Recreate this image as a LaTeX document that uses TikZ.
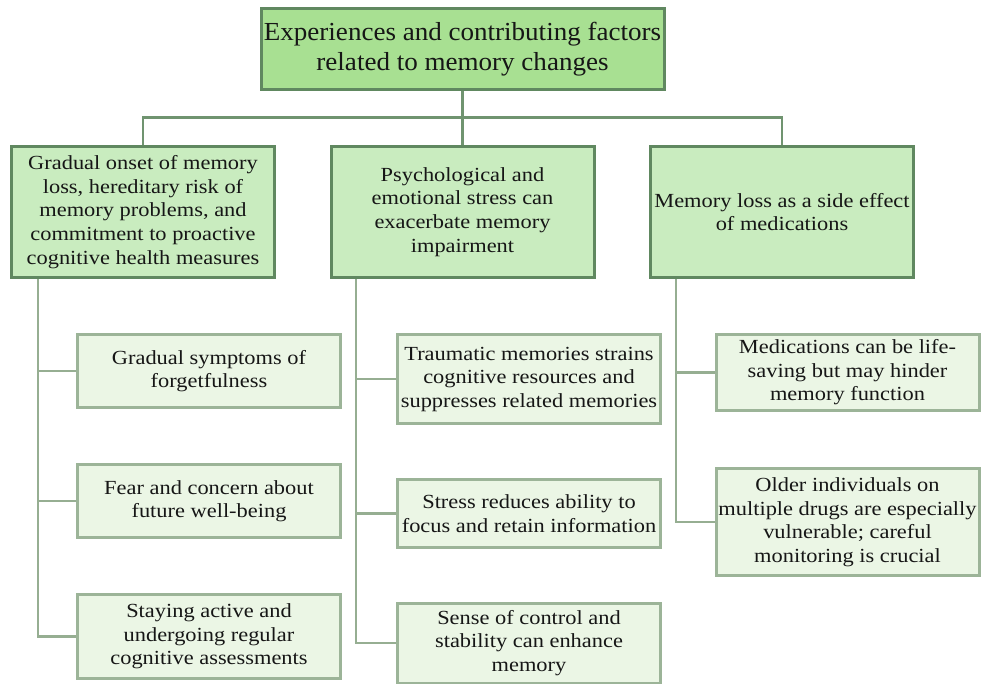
\documentclass[tikz,border=0pt]{standalone}
\usepackage{fontspec}
\setmainfont{Liberation Serif}
\newfontfamily\headfont{Liberation Serif}[FakeStretch=1.04]
\newfontfamily\boxfont{Liberation Serif}[FakeStretch=1.12]

\definecolor{rootfill}{RGB}{168,224,146}
\definecolor{midfill}{RGB}{201,236,191}
\definecolor{leaffill}{RGB}{235,246,229}
\definecolor{darkedge}{RGB}{96,136,96}
\definecolor{leafedge}{RGB}{156,180,152}
\definecolor{upline}{RGB}{112,148,112}
\definecolor{lowline}{RGB}{150,174,146}
\definecolor{ink}{RGB}{22,22,22}

\tikzset{
  rootbox/.style={draw=darkedge, fill=rootfill, line width=3pt,
    minimum width=403pt, minimum height=81pt, inner xsep=1pt, inner ysep=2pt,
    align=center, text=ink, font=\headfont\fontsize{26}{30}\selectfont},
  topicbox/.style={draw=darkedge, fill=midfill, line width=3pt,
    minimum width=263pt, minimum height=131pt, inner xsep=1pt, inner ysep=2pt,
    align=center, text=ink, font=\boxfont\fontsize{20}{23.7}\selectfont},
  leafbox/.style={draw=leafedge, fill=leaffill, line width=3pt,
    minimum width=263pt, inner xsep=1pt, inner ysep=2pt,
    align=center, text=ink, font=\boxfont\fontsize{20}{23.5}\selectfont},
  upconn/.style={draw=upline, line width=2.6pt},
  lowconn/.style={draw=lowline, line width=2.6pt},
}

\begin{document}
\begin{tikzpicture}[x=1pt, y=-1pt]
  \fill[white] (0,0) rectangle (981,683);
  \useasboundingbox (0,0) rectangle (981,683);

  % root and the three topics
  \node[rootbox] (root) at (462.5,49)
    {Experiences and contributing factors\\related to memory changes};
  \node[topicbox] (ta) at (143,212)
    {Gradual onset of memory\\loss, hereditary risk of\\memory problems, and\\commitment to proactive\\cognitive health measures};
  \node[topicbox] (tb) at (462.5,212)
    {Psychological and\\emotional stress can\\exacerbate memory\\impairment};
  \node[topicbox] (tc) at (782,212)
    {Memory loss as a side effect\\of medications};

  % first column of details
  \node[leafbox, minimum height=73pt] (la1) at (209,371)
    {Gradual symptoms of\\forgetfulness};
  \node[leafbox, minimum height=73pt] (la2) at (209,501)
    {Fear and concern about\\future well-being};
  \node[leafbox, minimum height=84pt] (la3) at (209,636.5)
    {Staying active and\\undergoing regular\\cognitive assessments};

  % second column of details
  \node[leafbox, minimum height=89pt] (lb1) at (529,379)
    {Traumatic memories strains\\cognitive resources and\\suppresses related memories};
  \node[leafbox, minimum height=68pt] (lb2) at (529,513.5)
    {Stress reduces ability to\\focus and retain information};
  \node[leafbox, minimum height=80pt] (lb3) at (529,643)
    {Sense of control and\\stability can enhance\\memory};

  % third column of details
  \node[leafbox, minimum height=76pt] (lc1) at (847.5,372.5)
    {Medications can be life-\\saving but may hinder\\memory function};
  \node[leafbox, minimum height=107pt] (lc2) at (847.5,522)
    {Older individuals on\\multiple drugs are especially\\vulnerable; careful\\monitoring is crucial};

  % root to topics
  \draw[upconn] (root.south) -- (tb.north);
  \draw[upconn] (ta.north) -- ++(0,-27.5) -| (tc.north);

  % trunks under each topic
  \coordinate (trunka) at ([xshift=-105pt]ta.south);
  \coordinate (trunkb) at ([xshift=-106.5pt]tb.south);
  \coordinate (trunkc) at ([xshift=-106pt]tc.south);

  \draw[lowconn] (trunka) |- (la3.west);
  \draw[lowconn] (la1.west) -- (la1.west -| trunka);
  \draw[lowconn] (la2.west) -- (la2.west -| trunka);

  \draw[lowconn] (trunkb) |- (lb3.west);
  \draw[lowconn] (lb1.west) -- (lb1.west -| trunkb);
  \draw[lowconn] (lb2.west) -- (lb2.west -| trunkb);

  \draw[lowconn] (trunkc) |- (lc2.west);
  \draw[lowconn] (lc1.west) -- (lc1.west -| trunkc);
\end{tikzpicture}
\end{document}
